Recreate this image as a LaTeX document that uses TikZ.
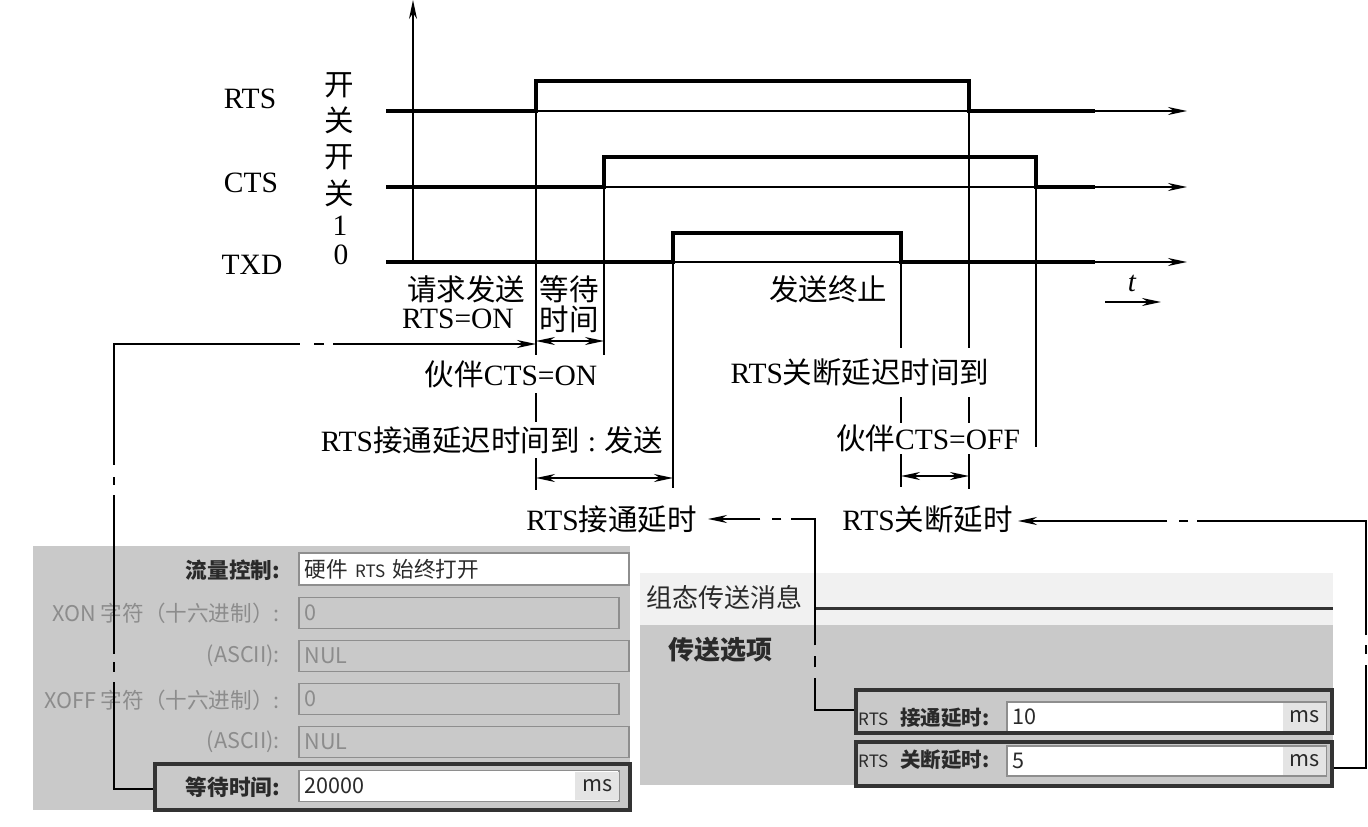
\documentclass[tikz,border=0pt]{standalone}
\usepackage{fontspec}
\setmainfont{Liberation Serif}
\newfontfamily\cjk{Noto Sans CJK SC}
\usetikzlibrary{arrows.meta,positioning,calc}
\definecolor{panelgray}{HTML}{C9C9C9}
\definecolor{headgray}{HTML}{F1F1F1}
\definecolor{fieldedge}{HTML}{8E8E8E}
\definecolor{boxdark}{HTML}{333333}
\definecolor{offtext}{HTML}{8C8C8C}
\definecolor{uitext}{HTML}{2A2A2A}
\definecolor{msgray}{HTML}{E4E4E4}
\newcommand{\zh}[1]{{\cjk #1}}
\newcommand{\uisize}{\fontsize{21.6}{24}\selectfont\cjk}
\newcommand{\smallrts}{{\mdseries\fontsize{17}{18}\selectfont RTS}}

\begin{document}
\begin{tikzpicture}[x=1pt,y=-1pt,
  tip/.style={-{Stealth[length=19pt,width=8pt,inset=6pt]}},
  both/.style={{Stealth[length=19pt,width=8pt,inset=6pt]}-{Stealth[length=19pt,width=8pt,inset=6pt]}},
  wave/.style={line width=4pt,line join=miter,black},
  thinl/.style={line width=1.4pt,black},
  conn/.style={line width=1.7pt,black},
  lab/.style={font=\fontsize{29.5}{33}\selectfont,inner sep=0pt},
  gaplab/.style={lab,fill=white,minimum height=#1},
  panel/.style={anchor=north west,inner sep=0pt,fill=panelgray},
  field/.style={anchor=west,align=left,inner sep=6pt,minimum height=31pt,line width=1.5pt,
    draw=fieldedge,font=\uisize,text=uitext},
  offfield/.style={field,text=offtext},
  rowname/.style={anchor=east,inner sep=0pt,font=\uisize\bfseries,text=uitext},
  offname/.style={anchor=east,inner sep=0pt,font=\uisize,text=offtext},
  unitbox/.style={anchor=east,fill=msgray,inner sep=0pt,minimum width=44pt,minimum height=28pt,
    font=\uisize,text=uitext},
  hibox/.style={anchor=north west,inner sep=0pt,draw=boxdark,line width=3.6pt}]
\useasboundingbox (0,0) rectangle (1368,827);
% left dialog
\node[panel,minimum width=597pt,minimum height=264pt] (pleft) at (33,546) {};
\node[field,fill=white,text width=318pt] (flowf) at (298,569) {硬件 \smallrts{} 始终打开};
\node[offfield,text width=308pt] (xonf) at (298,613) {0};
\node[offfield,text width=318pt] (asca) at (298,656) {NUL};
\node[offfield,text width=308pt] (xoff) at (298,699) {0};
\node[offfield,text width=318pt] (ascb) at (298,742) {NUL};
\node[field,fill=white,text width=308pt] (waitf) at (298,786) {20000};
\node[unitbox] (waitu) at (waitf.east) {ms};
\node[rowname] (nflow) at (280,570) {流量控制:};
\node[offname] (nxon) at (280,613) {XON 字符（十六进制）:};
\node[offname] (nasa) at (280,656) {(ASCII):};
\node[offname] (nxoff) at (280,700) {XOFF 字符（十六进制）:};
\node[offname] (nasb) at (280,742) {(ASCII):};
\node[rowname] (nwait) at (280,787) {等待时间:};
\node[hibox,minimum width=475pt,minimum height=46pt] (waitbox) at (153,762) {};
% right dialog
\node[panel,fill=headgray,minimum width=693pt,minimum height=52pt] (phead) at (640,573) {};
\node[panel,minimum width=693pt,minimum height=160pt] (pright) at (640,625) {};
\node[anchor=west,inner sep=0pt,font=\fontsize{26}{28}\selectfont\cjk,text=uitext] (ttab) at (646,597) {组态传送消息};
\node[anchor=west,inner sep=0pt,font=\fontsize{26}{28}\selectfont\cjk\bfseries,text=uitext] (topt) at (668,650) {传送选项};
\coordinate (rulea) at (815,608);
\coordinate (ruleb) at (1333,608);
\draw[line width=3pt,boxdark] (rulea) -- (ruleb);
\node[field,fill=white,minimum height=30pt,text width=307pt] (onf) at (1006,717) {10};
\node[unitbox,minimum width=43pt] (onu) at (onf.east) {ms};
\node[field,fill=white,minimum height=30pt,text width=307pt] (offf) at (1006,761) {5};
\node[unitbox,minimum width=43pt] (offu) at (offf.east) {ms};
\node[rowname,anchor=west,font=\fontsize{20.5}{22}\selectfont\cjk\bfseries] (non) at (858,718) {\smallrts\hspace{12pt}接通延时:};
\node[rowname,anchor=west,font=\fontsize{20.5}{22}\selectfont\cjk\bfseries] (noff) at (858,760) {\smallrts\hspace{12pt}关断延时:};
\node[hibox,minimum width=476pt,minimum height=43pt] (onbox) at (854,688) {};
\node[hibox,minimum width=476pt,minimum height=44pt] (offbox) at (854,740) {};
% signals
\coordinate (origin) at (413,262);
\coordinate (ytop) at (413,0);
\draw[thinl,tip] (origin) -- (ytop);
\foreach \nm/\lo/\hi/\xa/\xb in {rts/111/81/536/969,cts/187/157/604/1036,txd/262/233/673/901}{
  \coordinate (\nm l) at (386,\lo);
  \coordinate (\nm e) at (1095,\lo);
  \coordinate (\nm r) at (1187,\lo);
  \coordinate (\nm a) at (\xa,\lo);
  \coordinate (\nm b) at (\xb,\lo);
  \coordinate (\nm c) at (\xa,\hi);
  \coordinate (\nm d) at (\xb,\hi);
  \draw[thinl,tip] (\nm l) -- (\nm r);
  \draw[wave] (\nm l) -- (\nm a) -- (\nm c) -- (\nm d) -- (\nm b) -- (\nm e);
}
% leaders
\coordinate (ld1) at (536,490);
\coordinate (ld2) at (604,355);
\coordinate (ld3) at (673,488);
\coordinate (ld4) at (901,487);
\coordinate (ld5) at (969,489);
\coordinate (ld6) at (1036,447);
\draw[thinl] (rtsa) -- (ld1);
\draw[thinl] (ctsa) -- (ld2);
\draw[thinl] (txda) -- (ld3);
\draw[thinl] (txdb) -- (ld4);
\draw[thinl] (rtsb) -- (ld5);
\draw[thinl,line width=1.8pt] (ctsb) -- (ld6);
% labels
\node[lab] (lrts) at (250,99) {RTS};
\node[lab] (lcts) at (251,183) {CTS};
\node[lab] (ltxd) at (252,265) {TXD};
\node[lab] (sa) at (339,85) {\zh{开}};
\node[lab] (sb) at (339,120) {\zh{关}};
\node[lab] (sc) at (339,157) {\zh{开}};
\node[lab] (sd) at (339,193) {\zh{关}};
\node[lab] (se) at (340,226) {1};
\node[lab] (sf) at (341,255) {0};
\node[lab] (treq) at (466,289) {\zh{请求发送}};
\node[lab] (tron) at (458,319) {RTS=ON};
\node[lab] (twa) at (569,289) {\zh{等待}};
\node[lab] (twb) at (569,319) {\zh{时间}};
\node[lab] (tstop) at (828,289) {\zh{发送终止}};
\node[lab,font=\fontsize{29}{32}\selectfont\itshape] (tt) at (1132,283) {t};
\coordinate (ta) at (1105,302);
\coordinate (tb) at (1161,302);
\draw[thinl,tip] (ta) -- (tb);
\node[gaplab=38pt] (pon) at (511,374) {\zh{伙伴}CTS=ON};
\node[gaplab=49pt] (rdl) at (860,372) {RTS\zh{关断延迟时间到}};
\node[gaplab=36pt] (ssend) at (492,440) {RTS\zh{接通延迟时间到}\;:\;\zh{发送}};
\node[gaplab=31pt] (poff) at (928,438) {\zh{伙伴}CTS=OFF};
\node[lab,anchor=east] (ondl) at (697,519) {RTS\zh{接通延时}};
\node[lab,anchor=east] (offdl) at (1013,519) {RTS\zh{关断延时}};
% spans
\coordinate (wa) at (536,341);
\coordinate (wb) at (604,341);
\coordinate (sa1) at (536,478);
\coordinate (sb1) at (673,478);
\coordinate (oa) at (901,476);
\coordinate (ob) at (969,476);
\draw[thinl,both] (wa) -- (wb);
\draw[thinl,both] (sa1) -- (sb1);
\draw[thinl,both] (oa) -- (ob);
% links to the dialogs
\coordinate (waitc) at (114,344);
\coordinate (waitt) at (536,344);
\coordinate (onc) at (815,519);
\coordinate (offc) at (1366,521);
\draw[conn,tip,dash pattern=on 146pt off 10pt on 10pt off 8pt on 159pt off 10pt on 8pt off 12pt on 307pt off 14pt on 10pt off 9pt on 400pt]
  ([yshift=-2pt]waitbox.west) -| (waitc) -- (waitt);
\draw[conn,tip,shorten >=11pt,dash pattern=on 71pt off 11pt on 11pt off 11pt on 150pt off 10pt on 9pt off 12pt on 200pt]
  ([yshift=1pt]onbox.west) -| (onc) -- (onc -| ondl.east);
\draw[conn,tip,shorten >=5pt,dash pattern=on 135pt off 11pt on 9pt off 10pt on 283pt off 9pt on 9pt off 12pt on 300pt]
  ([yshift=-4pt]offbox.east) -| (offc) -- (offc -| offdl.east);
\end{tikzpicture}
\end{document}
